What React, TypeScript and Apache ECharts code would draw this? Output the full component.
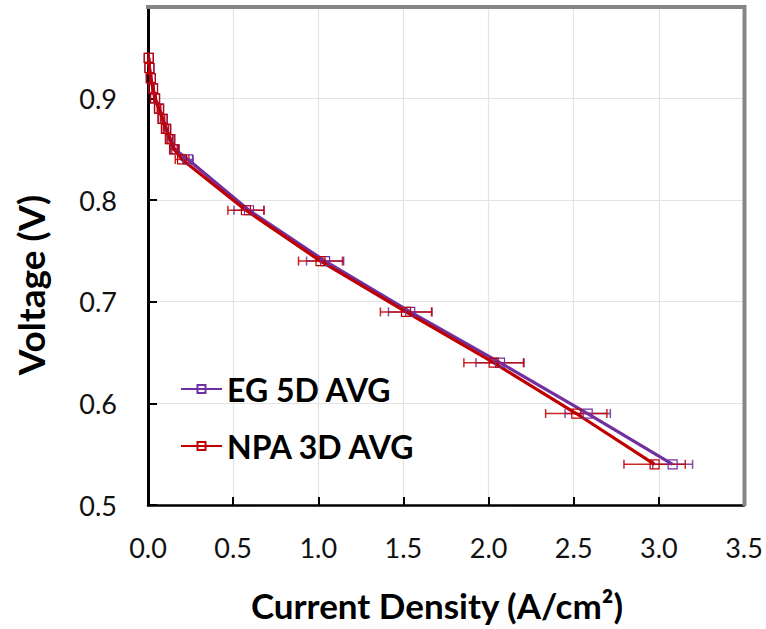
import React, { useEffect, useRef } from "react";
import * as echarts from "echarts";

const voltages = [0.94, 0.93, 0.92, 0.91, 0.9, 0.89, 0.88, 0.87, 0.86, 0.85, 0.84, 0.79, 0.74, 0.69, 0.64, 0.59, 0.54];
const egCurrent = [0.005, 0.009, 0.017, 0.03, 0.042, 0.066, 0.087, 0.108, 0.132, 0.157, 0.235, 0.593, 1.04, 1.54, 2.067, 2.582, 3.081];
const npaCurrent = [0.004, 0.008, 0.016, 0.029, 0.041, 0.064, 0.085, 0.105, 0.128, 0.153, 0.2, 0.575, 1.013, 1.515, 2.03, 2.515, 2.975];
const egErr = [0.002, 0.003, 0.004, 0.005, 0.006, 0.008, 0.01, 0.012, 0.014, 0.016, 0.03, 0.088, 0.109, 0.128, 0.141, 0.133, 0.117];
const npaErr = [0.003, 0.004, 0.005, 0.006, 0.008, 0.01, 0.012, 0.014, 0.016, 0.02, 0.04, 0.106, 0.129, 0.15, 0.175, 0.18, 0.18];
const xTicks = [0, 0.5, 1.0, 1.5, 2.0, 2.5, 3.0, 3.5];
const yTicks = [0.5, 0.6, 0.7, 0.8, 0.9];
const seriesNames = ["EG 5D AVG", "NPA 3D AVG"];
const colors = ["#7030A0", "#C00000"];

const FONT = "Lato";

function errorSeries(name: string, xs: number[], errs: number[], color: string) {
  return {
    type: "custom",
    name,
    silent: true,
    z: 1,
    data: voltages.map((v, i) => [xs[i], v, errs[i]]),
    encode: { x: 0, y: 1 },
    renderItem: (_params: any, api: any) => {
      const x = api.value(0);
      const y = api.value(1);
      const e = api.value(2);
      const p1 = api.coord([x - e, y]);
      const p2 = api.coord([x + e, y]);
      const h = 4.5;
      const style = { stroke: color, lineWidth: 1.5, opacity: 0.85, fill: null };
      return {
        type: "group",
        children: [
          { type: "line", shape: { x1: p1[0], y1: p1[1], x2: p2[0], y2: p2[1] }, style },
          { type: "line", shape: { x1: p1[0], y1: p1[1] - h, x2: p1[0], y2: p1[1] + h }, style },
          { type: "line", shape: { x1: p2[0], y1: p2[1] - h, x2: p2[0], y2: p2[1] + h }, style },
        ],
      };
    },
  };
}

function lineSeries(name: string, xs: number[], color: string) {
  return {
    type: "line",
    name,
    z: 3,
    data: voltages.map((v, i) => [xs[i], v]),
    symbol: "rect",
    symbolSize: 9,
    showAllSymbol: true,
    itemStyle: { color: "rgba(255,255,255,0)", borderColor: color, borderWidth: 1.2 },
    lineStyle: { color, width: 3.2 },
    emphasis: { disabled: true },
  };
}

export default function App() {
  const ref = useRef<HTMLDivElement>(null);
  useEffect(() => {
    if (!ref.current) return;
    const chart = echarts.init(ref.current, null, { renderer: "svg" });
    chart.setOption({
      animation: false,
      backgroundColor: "#fff",
      grid: { left: 148, right: 22, top: 7, bottom: 124, containLabel: false, show: false },
      xAxis: {
        type: "value",
        min: 0,
        max: 3.5,
        interval: 0.5,
        axisLine: { show: true, lineStyle: { color: "#000", width: 2.5 } },
        axisTick: { show: true, inside: true, length: 8, lineStyle: { color: "#000", width: 2 } },
        axisLabel: {
          margin: 29,
          fontFamily: FONT,
          fontSize: 27,
          color: "#111",
          formatter: (v: number) => (xTicks.some((t) => Math.abs(t - v) < 1e-6) ? v.toFixed(1) : ""),
        },
        splitLine: { show: true, lineStyle: { color: "#e3e3e3", width: 1.2 } },
      },
      yAxis: {
        type: "value",
        min: 0.5,
        max: 0.99,
        interval: 0.1,
        axisLine: { show: true, lineStyle: { color: "#000", width: 3 } },
        axisTick: { show: true, inside: true, length: 9, lineStyle: { color: "#000", width: 2 } },
        axisLabel: {
          margin: 31,
          fontFamily: FONT,
          fontSize: 27,
          color: "#111",
          formatter: (v: number) => (yTicks.some((t) => Math.abs(t - v) < 1e-6) ? v.toFixed(1) : ""),
        },
        splitLine: { show: true, lineStyle: { color: "#e3e3e3", width: 1.2 } },
      },
      legend: {
        orient: "vertical",
        left: 175,
        top: 366,
        data: seriesNames,
        itemWidth: 41,
        itemHeight: 10,
        itemGap: 21,
        selectedMode: false,
        textStyle: { fontFamily: FONT, fontSize: 32, fontWeight: "bold", color: "#000", lineHeight: 36 },
      },
      graphic: [
        {
          type: "line",
          z: 100,
          shape: { x1: 146, y1: 7, x2: 746, y2: 7 },
          style: { stroke: "#868686", lineWidth: 4 },
        },
        {
          type: "line",
          z: 100,
          shape: { x1: 744.5, y1: 5, x2: 744.5, y2: 506 },
          style: { stroke: "#868686", lineWidth: 4 },
        },
        {
          type: "text",
          z: 100,
          x: 437,
          y: 605,
          style: {
            text: "Current Density (A/cm²)",
            fontFamily: FONT,
            fontSize: 35,
            fontWeight: "bold",
            fill: "#000",
            align: "center",
            verticalAlign: "middle",
          },
        },
        {
          type: "text",
          z: 100,
          x: 30,
          y: 285,
          rotation: Math.PI / 2,
          style: {
            text: "Voltage (V)",
            fontFamily: FONT,
            fontSize: 37,
            fontWeight: "bold",
            fill: "#000",
            align: "center",
            verticalAlign: "middle",
          },
        },
      ],
      series: [
        errorSeries("EG err", egCurrent, egErr, colors[0]),
        errorSeries("NPA err", npaCurrent, npaErr, colors[1]),
        lineSeries(seriesNames[0], egCurrent, colors[0]),
        lineSeries(seriesNames[1], npaCurrent, colors[1]),
      ],
    });
    return () => chart.dispose();
  }, []);
  return <div ref={ref} style={{ position: "fixed", left: 0, top: 0, width: 766, height: 629 }} />;
}
